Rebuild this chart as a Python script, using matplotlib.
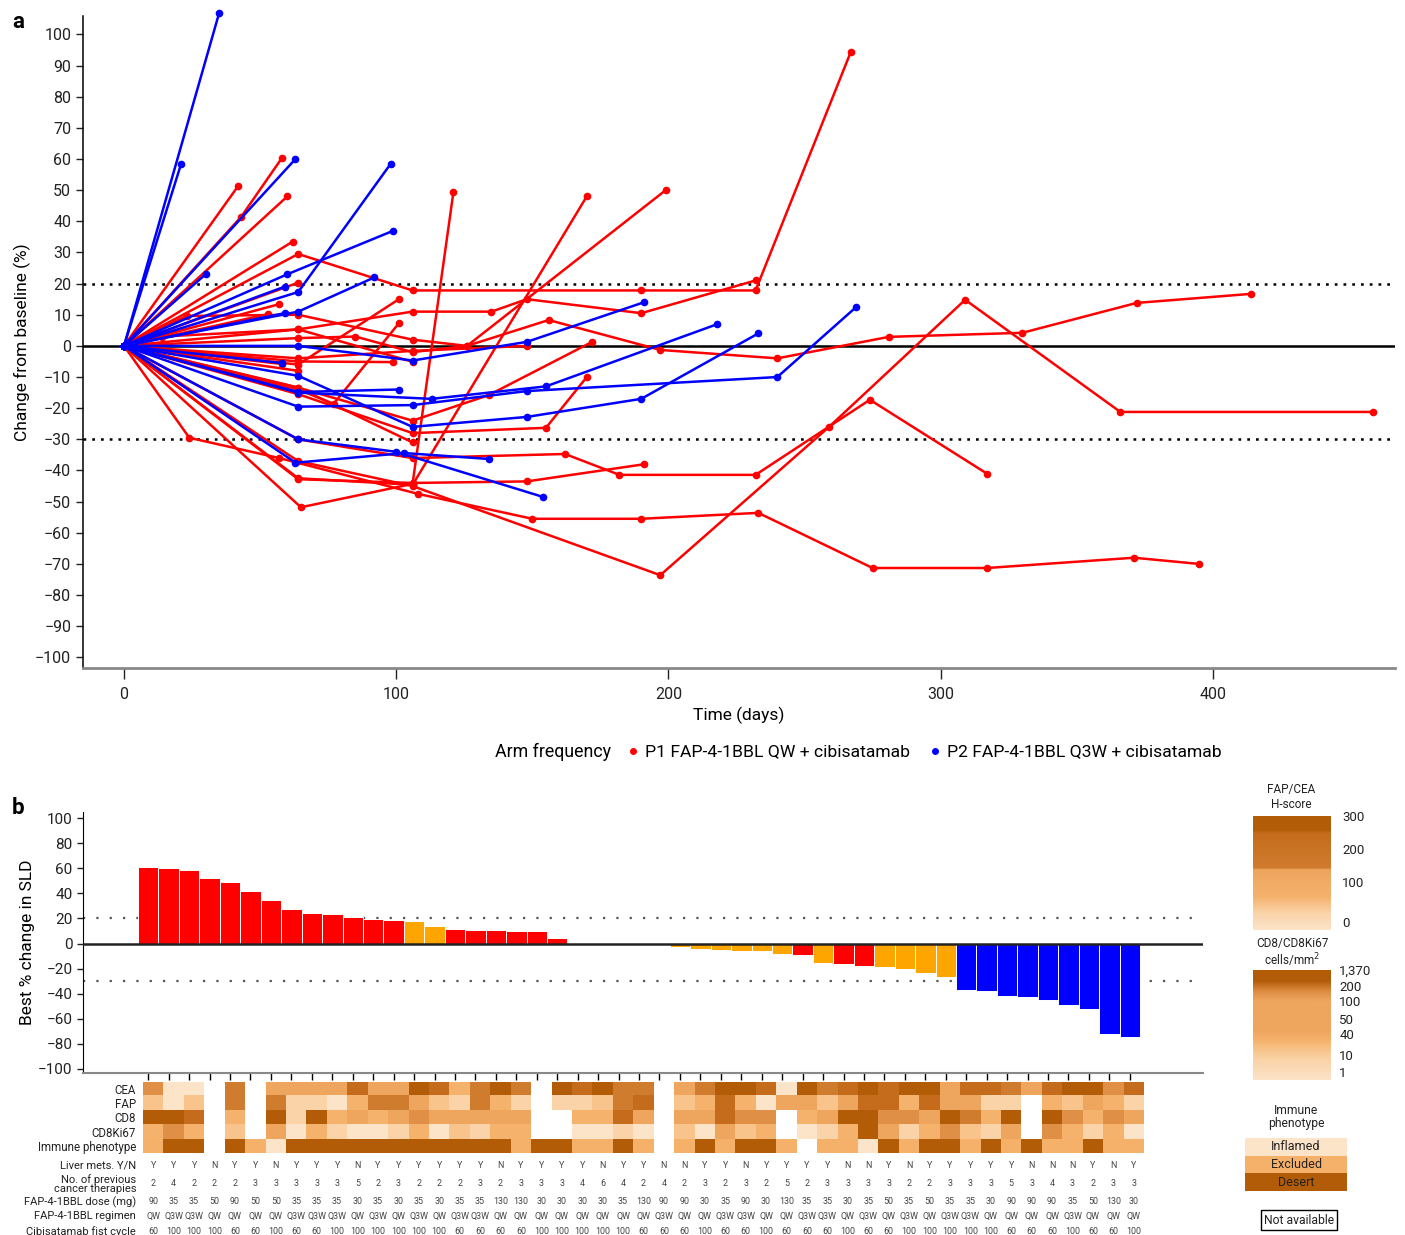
import numpy as np
import matplotlib
matplotlib.use('Agg')
import matplotlib.pyplot as plt
from matplotlib.colors import LinearSegmentedColormap
from matplotlib.lines import Line2D

plt.rcParams['font.family'] = ['Roboto', 'DejaVu Sans']

# ---- panel a: spider plot, one list per patient ----
p1_days = [
    [0, 42], [0, 43, 58], [0, 60], [0, 62],
    [0, 64, 106, 190, 232, 267],
    [0, 64], [0, 57], [0, 53],
    [0, 14, 64, 106, 135, 148, 190, 232],
    [0, 23, 64, 106, 126, 156, 197, 240, 281, 330, 372, 414],
    [0, 64, 101],
    [0, 64, 85, 106, 126, 199],
    [0, 64, 106],
    [0, 65, 106, 121],
    [0, 64, 106, 170],
    [0, 64, 106, 134, 172],
    [0, 64, 106, 155, 170],
    [0, 24, 57, 108, 150, 190, 233, 275, 317, 371, 395],
    [0, 64, 106, 197, 259, 309, 366, 459],
    [0, 64, 106, 162, 182, 232, 274, 317],
    [0, 64, 106, 148, 191],
    [0, 64], [0, 58],
    [0, 64, 77, 101],
    [0, 64, 106],
    [0, 64, 106, 148],
    [0, 64, 99],
]
p1_vals = [
    [0, 51.4], [0, 41.4, 60.3], [0, 48], [0, 33.5],
    [0, 29.5, 17.8, 17.8, 17.8, 94.4],
    [0, 20.3], [0, 13.4], [0, 10.2],
    [0, 3, 5.3, 11, 11, 15, 10.5, 21],
    [0, 9.6, 10, 2, 0, 8.3, -1.3, -4, 2.9, 4.2, 13.8, 16.7],
    [0, -6, 15],
    [0, 2.5, 3, -2, 0, 50],
    [0, 5.3, -5.1],
    [0, -51.8, -44.3, 49.3],
    [0, -42.5, -44.6, 48],
    [0, -13.4, -24, -15.8, 1.3],
    [0, -15.5, -28, -26.3, -10],
    [0, -29.5, -36, -47.5, -55.5, -55.5, -53.6, -71.3, -71.3, -68, -70],
    [0, -37, -45, -73.6, -26, 14.8, -21.2, -21.2],
    [0, -30, -36, -34.7, -41.4, -41.4, -17.3, -41],
    [0, -42.8, -44, -43.5, -38],
    [0, -8], [0, -5.8],
    [0, -14, -18.6, 7.3],
    [0, -13.4, -31],
    [0, -4, -1.6, 0],
    [0, -5, -5.2],
]
p2_days = [
    [0, 35], [0, 21], [0, 63], [0, 30],
    [0, 64, 98], [0, 60, 99], [0, 59], [0, 64, 92], [0, 59],
    [0, 64, 106, 148, 191],
    [0, 58],
    [0, 64, 106, 148, 190, 233],
    [0, 64, 101],
    [0, 64, 106, 148, 240, 269],
    [0, 64, 113, 155, 218],
    [0, 64, 100, 154],
    [0, 63, 103, 134],
]
p2_vals = [
    [0, 107], [0, 58.5], [0, 60], [0, 23],
    [0, 17.3, 58.5], [0, 23, 37], [0, 19], [0, 11, 22], [0, 10.5],
    [0, 0, -4.7, 1.3, 14],
    [0, -5.5],
    [0, -9.6, -26, -22.8, -17, 4],
    [0, -14.8, -14],
    [0, -19.5, -19, -14.5, -10, 12.5],
    [0, -15, -17, -13, 7],
    [0, -30, -34, -48.5],
    [0, -37.5, -34.4, -36.3],
]

# ---- panel b: waterfall + annotation rows (49 patients) ----
best_change = [60.7, 60.5, 58.9, 52, 48.8, 42, 34.3, 27.4, 24, 23.2, 21.3,
               19.7, 18.4, 17.9, 14.2, 11.8, 11, 11, 10.2, 9.7, 4.4,
               np.nan, np.nan, np.nan, np.nan, np.nan,
               -2.5, -4.6, -5.1, -6.2, -6.2, -8, -9.1, -15.7, -16.5, -17.8,
               -18.6, -20.2, -23.6, -26.8, -36.9, -37.7, -41.9, -43, -45.1,
               -49, -52.2, -71.8, -74.2]
response = (['PD'] * 13 + ['SD'] * 2 + ['PD'] * 6 + [''] * 5 + ['SD'] * 6
            + ['PD'] + ['SD'] + ['PD'] * 2 + ['SD'] * 4 + ['PR'] * 9)

# colour bins 0 (light) .. 8 (dark), -1 = not available
cea = [5, 0, 0, -1, 6, -1, 4, 4, 4, 4, 7, 4, 4, 8, 7, 3, 6, 8,
       6, -1, 8, 7, 8, 6, 6, -1, 4, 6, 8, 8, 7, 0, 8, 6, 7, 8, 7, 8, 8, 4,
       7, 7, 6, 4, 7, 8, 8, 5, 7]
fap = [2, 0, 2, -1, 6, -1, 6, 1, 1, 0, 3, 6, 6, 4, 2, 1, 6, 3,
       1, -1, 1, 1, 2, 6, 7, -1, 2, 3, 7, 3, 0, 4, 4, 2, 4, 7, 7, 3, 7, 4,
       4, 1, 1, -1, 3, 2, 4, 3, 1]
cd8 = [8, 8, 7, -1, 3, -1, 8, 1, 8, 3, 4, 3, 4, 5, 4, 4, 4, 4,
       4, -1, -1, 3, 3, 7, 4, -1, 4, 4, 7, 5, 5, -1, 3, 4, 8, 8, 5, 5, 4, 8,
       6, 3, 8, -1, 8, 5, 3, 5, 4]
cd8ki67 = [3, 5, 3, -1, 2, -1, 4, 0, 3, 1, 0, 0, 1, 3, 0, 2, 1, 3,
           3, -1, -1, 0, 0, 1, 0, -1, 2, 0, 4, 2, 3, -1, 0, 1, 3, 8, 4, 1, 3, 5,
           2, 1, 4, -1, 5, 3, 1, 3, 0]
immune = ['E', 'D', 'D', '', 'D', 'E', 'I', 'D', 'D', 'D', 'D', 'D', 'D', 'D', 'D', 'D', 'D', 'D',
          'E', 'D', 'D', 'E', 'E', 'D', 'E', '', 'E', 'D', 'E', 'D', 'D', 'E', '', 'E', 'E', 'I', 'D', 'E', 'D', 'D',
          'E', 'D', 'E', 'D', 'E', 'E', 'D', 'E', 'E']

liver = list('YYYNYYNYYYNYYYYYYN' 'YYYYNYYNNYYNYYYYNNYNYY' 'YYYNNNYNY')
prev_ther = [2, 4, 2, 2, 2, 3, 3, 3, 3, 3, 5, 2, 3, 2, 2, 2, 3, 2,
             3, 3, 3, 4, 6, 4, 2, 4, 2, 3, 2, 3, 2, 5, 2, 3, 3, 3, 3, 2, 2, 3,
             3, 3, 5, 3, 4, 3, 2, 3, 3]
dose = [90, 35, 35, 50, 90, 50, 50, 35, 35, 35, 30, 35, 30, 35, 30, 35, 35, 130,
        130, 30, 30, 30, 30, 35, 130, 90, 90, 30, 35, 90, 30, 130, 35, 35, 30, 35, 50, 35, 50, 35,
        35, 30, 90, 90, 90, 35, 50, 130, 30]
regimen = ['QW', 'Q3W', 'Q3W', 'QW', 'QW', 'QW', 'QW', 'Q3W', 'Q3W', 'Q3W', 'QW', 'Q3W', 'QW', 'Q3W', 'QW', 'Q3W', 'Q3W', 'QW',
           'QW', 'QW', 'QW', 'QW', 'QW', 'QW', 'QW', 'Q3W', 'QW', 'QW', 'Q3W', 'Q3W', 'QW', 'QW', 'Q3W', 'Q3W', 'QW', 'Q3W', 'QW', 'Q3W', 'QW', 'Q3W',
           'Q3W', 'QW', 'QW', 'QW', 'QW', 'Q3W', 'QW', 'QW', 'QW']
cibi = [60, 100, 100, 100, 60, 60, 100, 60, 60, 100, 100, 100, 100, 100, 100, 60, 60, 60,
        60, 100, 100, 100, 100, 100, 60, 60, 60, 100, 60, 60, 100, 60, 60, 60, 100, 60, 60, 100, 100, 100,
        100, 100, 60, 60, 60, 100, 60, 60, 100]

levels = ['#fce4c8', '#fad3a8', '#f8c48c', '#f5b26d', '#eea55e',
          '#df9046', '#d07c2f', '#c46c1c', '#b35c08']
immune_col = {'I': '#fce4c8', 'E': '#f5b06a', 'D': '#b35c08', '': '#ffffff'}
resp_col = {'PD': '#ff0000', 'SD': '#ffa500', 'PR': '#0000ff', '': 'none'}

W, H = 1405, 1235
fig = plt.figure(figsize=(W / 100, H / 100), dpi=100)


def box(l, t, r, b):
    return [l / W, 1 - b / H, (r - l) / W, (b - t) / H]


# ================= panel a =================
ax = fig.add_axes(box(83, 16, 1395, 668))
ax.axhline(0, color='black', lw=1.8, zorder=1)
for yv in (20, -30):
    ax.axhline(yv, color='black', lw=1.8, ls=(0, (1.1, 2.4)), zorder=1)
for d, v in zip(p1_days, p1_vals):
    ax.plot(d, v, '-o', color='#ff0000', lw=1.8, ms=4.5, clip_on=False, zorder=2)
for d, v in zip(p2_days, p2_vals):
    ax.plot(d, v, '-o', color='#0000ff', lw=1.8, ms=4.5, clip_on=False, zorder=3)
ax.set_xlim(-15.06, 466.9)
ax.set_ylim(-103.4, 105.9)
ax.set_xticks([0, 100, 200, 300, 400])
ax.set_yticks(range(-100, 101, 10))
for s in ('top', 'right'):
    ax.spines[s].set_visible(False)
ax.spines['left'].set_linewidth(1.1)
ax.spines['bottom'].set_color('#888888')
ax.spines['bottom'].set_linewidth(2)
ax.tick_params(axis='x', length=8, width=1, pad=6, labelsize=11.5, colors='#222222')
ax.tick_params(axis='y', length=5, width=1, labelsize=11.5, colors='#222222')
ax.set_xlabel('Time (days)', fontsize=12.5, labelpad=3)
ax.set_ylabel('Change from baseline (%)', fontsize=12.5, labelpad=3)

fig.text(495 / W, 1 - 752 / H, 'Arm frequency', fontsize=12.8, va='center')
handles = [Line2D([], [], marker='o', ls='', color='#ff0000', ms=4,
                  label='P1 FAP-4-1BBL QW + cibisatamab'),
           Line2D([], [], marker='o', ls='', color='#0000ff', ms=4,
                  label='P2 FAP-4-1BBL Q3W + cibisatamab')]
fig.legend(handles=handles, loc='center left', bbox_to_anchor=(626 / W, 1 - 752 / H),
           ncol=2, frameon=False, fontsize=12.6, handlelength=0.8,
           handletextpad=0.3, columnspacing=1.0, borderaxespad=0, borderpad=0)

fig.text(12 / W, 1 - 22 / H, 'a', fontsize=16, fontweight='bold', va='center')
fig.text(12 / W, 1 - 808 / H, 'b', fontsize=16, fontweight='bold', va='center')

# ================= panel b: waterfall =================
n = len(best_change)
xs = np.arange(n)
axb = fig.add_axes(box(83, 812, 1203, 1073))
ok = ~np.isnan(best_change)
axb.bar(xs[ok], np.array(best_change)[ok], width=1.0,
        color=[resp_col[r] for r, k in zip(response, ok) if k],
        edgecolor='#ffffff', linewidth=0.7, zorder=2)
axb.axhline(0, color='#222222', lw=1.8, zorder=3)
for yv in (20, -30):
    axb.axhline(yv, color='#555555', lw=1.6, ls=(0, (1, 5)), zorder=1)
axb.set_xlim(-0.5 - 55 / 20.45, -0.5 + 1065 / 20.45)
axb.set_ylim(-103.2, 104.8)
axb.set_yticks(range(-100, 101, 20))
axb.set_xticks(xs)
axb.set_xticklabels([])
for s in ('top', 'right'):
    axb.spines[s].set_visible(False)
axb.spines['bottom'].set_color('#888888')
axb.spines['bottom'].set_linewidth(1.5)
axb.tick_params(axis='x', length=5, width=1)
axb.tick_params(axis='y', length=4, width=1, labelsize=11, colors='#222222')
axb.set_ylabel('Best % change in SLD', fontsize=12.5, labelpad=2)

# ================= heatmap =================
img = np.ones((5, n, 3))
for r, row in enumerate([cea, fap, cd8, cd8ki67]):
    for c, lv in enumerate(row):
        if lv >= 0:
            img[r, c] = matplotlib.colors.to_rgb(levels[lv])
for c, ph in enumerate(immune):
    img[4, c] = matplotlib.colors.to_rgb(immune_col[ph])
axh = fig.add_axes(box(143, 1081.5, 1144, 1153.5))
axh.imshow(img, aspect='auto', interpolation='nearest', extent=(-0.5, n - 0.5, 4.5, -0.5))
axh.set_xticks([])
axh.set_yticks(range(5))
axh.set_yticklabels(['CEA', 'FAP', 'CD8', 'CD8Ki67', 'Immune phenotype'], fontsize=8.3, color='#222222')
axh.tick_params(axis='y', length=0, pad=5)
for s in axh.spines.values():
    s.set_visible(False)

# ================= clinical rows =================
axt = fig.add_axes(box(143, 1158, 1144, 1235))
axt.set_xlim(-0.5, n - 0.5)
axt.set_ylim(1235, 1158)
axt.axis('off')
rows = [('Liver mets. Y/N', 1166, liver),
        ('No. of previous\ncancer therapies', 1184, prev_ther),
        ('FAP-4-1BBL dose (mg)', 1202, dose),
        ('FAP-4-1BBL regimen', 1216, regimen),
        ('Cibisatamab fist cycle', 1232, cibi)]
for lab, yy, vals in rows:
    axt.text(-0.84, yy, lab, ha='right', va='center', fontsize=8,
             color='#222222', linespacing=0.9, clip_on=False)
    for i, v in enumerate(vals):
        axt.text(i, yy, str(v), ha='center', va='center', fontsize=6.4,
                 color='#444444', clip_on=False)

# ================= legends on the right =================
cmap_h = LinearSegmentedColormap.from_list(
    'hscore', [(0, levels[0]), (0.15, levels[1]), (0.29, levels[3]), (0.53, levels[4]),
               (0.545, levels[6]), (0.85, levels[7]), (0.88, levels[8]), (1, levels[8])])
axc1 = fig.add_axes(box(1253, 816, 1331, 930))
grad = np.linspace(0, 1, 256).reshape(-1, 1)
axc1.imshow(grad, cmap=cmap_h, aspect='auto', origin='lower', extent=(0, 1, 930, 816))
axc1.set_ylim(930, 816)
axc1.set_xticks([])
axc1.yaxis.tick_right()
axc1.set_yticks([816, 849, 882, 922])
axc1.set_yticklabels(['300', '200', '100', '0'], fontsize=9.5, color='#222222')
axc1.tick_params(axis='y', length=0, pad=8)
for s in axc1.spines.values():
    s.set_visible(False)
fig.text(1291 / W, 1 - 797 / H, 'FAP/CEA\nH-score', ha='center', va='center',
         fontsize=8.5, linespacing=1.1, color='#222222')

cmap_c = LinearSegmentedColormap.from_list(
    'cd8', [(0, levels[0]), (0.18, levels[1]), (0.27, levels[2]), (0.36, levels[3]),
            (0.45, levels[4]), (0.72, levels[4]), (0.8, levels[5]), (0.87, levels[7]),
            (0.9, levels[8]), (1, levels[8])])
axc2 = fig.add_axes(box(1253, 970, 1331, 1080))
axc2.imshow(grad, cmap=cmap_c, aspect='auto', origin='lower', extent=(0, 1, 1080, 970))
axc2.set_ylim(1080, 970)
axc2.set_xticks([])
axc2.yaxis.tick_right()
axc2.set_yticks([969, 985, 1000, 1018, 1034, 1055, 1072])
axc2.set_yticklabels(['1,370', '200', '100', '50', '40', '10', '1'], fontsize=9.5, color='#222222')
axc2.tick_params(axis='y', length=0, pad=6)
for s in axc2.spines.values():
    s.set_visible(False)
fig.text(1292 / W, 1 - 953 / H, 'CD8/CD8Ki67\ncells/mm$^2$', ha='center', va='center',
         fontsize=8.5, linespacing=1.1, color='#222222')

fig.text(1296 / W, 1 - 1117 / H, 'Immune\nphenotype', ha='center', va='center',
         fontsize=8.7, linespacing=1.1, color='#222222')
axi = fig.add_axes(box(1245, 1138, 1347, 1191))
phen = ['Inflamed', 'Excluded', 'Desert']
axi.imshow(np.array([[matplotlib.colors.to_rgb(immune_col[p[0]])] for p in phen]),
           aspect='auto', extent=(0, 1, 2.5, -0.5))
for k, p in enumerate(phen):
    axi.text(0.5, k, p, ha='center', va='center', fontsize=9, color='#222222')
axi.set_xlim(0, 1)
axi.set_ylim(2.5, -0.5)
axi.axis('off')

fig.text(1299 / W, 1 - 1220 / H, 'Not available', ha='center', va='center', fontsize=8.7,
         color='#222222',
         bbox=dict(boxstyle='square,pad=0.25', fc='white', ec='black', lw=1))

fig.savefig('out.png', dpi=100)
